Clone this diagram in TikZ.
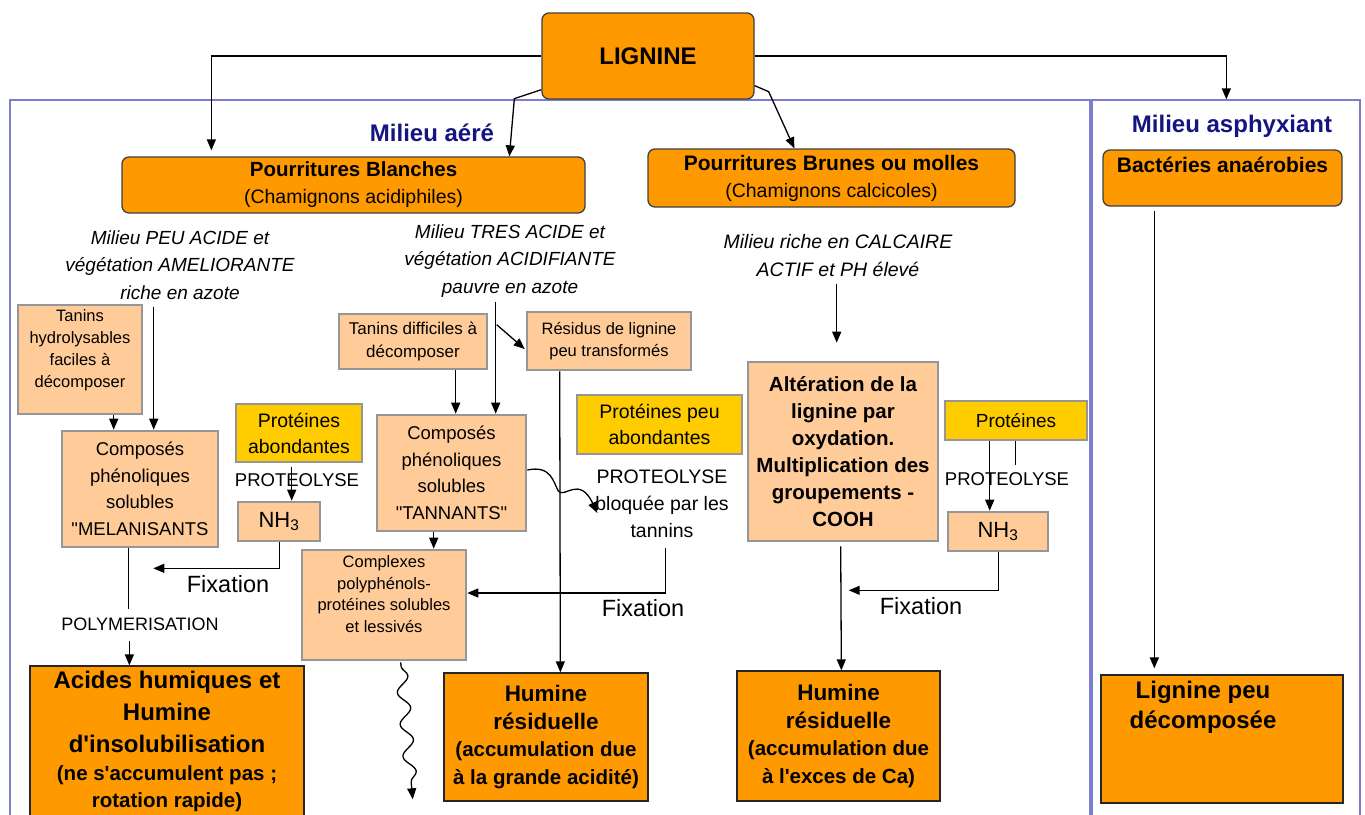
\documentclass[tikz,border=0pt]{standalone}
\usepackage{fontspec}
\setmainfont{Liberation Sans}[Ligatures=TeXOff]
\usetikzlibrary{arrows.meta,calc,decorations.pathmorphing}
\definecolor{org}{RGB}{255,153,0}
\definecolor{peach}{RGB}{255,204,153}
\definecolor{yel}{RGB}{255,204,0}
\definecolor{navy}{RGB}{20,20,130}
\definecolor{frm}{RGB}{125,125,205}
\definecolor{bgray}{RGB}{150,150,150}
\newcommand\fsz[2]{\fontsize{#1}{#2}\selectfont}
\begin{document}
\begin{tikzpicture}[x=1pt,y=-1pt,
 basebox/.style={inner sep=0pt, align=center, text=black},
 roundbox/.style={basebox, fill=org, draw=black!75, line width=1.3pt, rounded corners=7pt},
 peachbox/.style={basebox, fill=peach, draw=bgray, line width=2.6pt},
 yelbox/.style={basebox, fill=yel, draw=bgray, line width=2.6pt},
 finbox/.style={basebox, fill=org, draw=black!85, line width=1.3pt},
 framebox/.style={draw=frm, line width=1.3pt, inner sep=0pt},
 lab/.style={inner sep=0pt, align=center},
 arr/.style={line width=1.3pt, -{Triangle[length=11pt,width=9pt]}},
 ln/.style={line width=1.3pt},
]
\useasboundingbox (0,0) rectangle (1365,814);
\fill[white] (0,0) rectangle (1365,814);
\clip (0,0) rectangle (1365,814);

% frames
\node[framebox, minimum width=1080, minimum height=740] (aere) at (550,470) {};
\node[framebox, minimum width=268, minimum height=740] (asph) at (1226,470) {};

% top
\node[roundbox, minimum width=212, minimum height=86, font=\fsz{24}{28}\bfseries] (lig) at (648,56) {LIGNINE};
\node[lab, text=navy, font=\fsz{24}{28}\bfseries] (taere) at (432,133) {Milieu aéré};
\node[lab, text=navy, font=\fsz{24}{28}\bfseries] (tasph) at (1232,126) {Milieu asphyxiant};

\node[roundbox, minimum width=463, minimum height=56, font=\fsz{19.5}{27}] (pb) at (353.5,185)
  {{\fsz{20.5}{27}\bfseries Pourritures Blanches}\\(Chamignons acidiphiles)};
\node[roundbox, minimum width=367, minimum height=58, font=\fsz{19.5}{27}] (pbr) at (831.5,178)
  {{\fsz{21}{27}\bfseries Pourritures Brunes ou molles}\\(Chamignons calcicoles)};
\node[roundbox, minimum width=239, minimum height=56, font=\fsz{21}{27}\bfseries] (bact) at (1222.5,178)
  {Bactéries anaérobies\\\mbox{}};

% italic conditions
\node[lab, font=\fsz{19}{27.5}\itshape] (tPeu) at (180,265) {Milieu PEU ACIDE et\\végétation AMELIORANTE\\riche en azote};
\node[lab, font=\fsz{19}{27.5}\itshape] (tTres) at (510,261) {Milieu TRES ACIDE et\\végétation ACIDIFIANTE\\pauvre en azote};
\node[lab, font=\fsz{19.5}{27.5}\itshape] (tCal) at (838,255.5) {Milieu riche en CALCAIRE\\ACTIF et PH élevé};

% left column
\node[peachbox, minimum width=124, minimum height=109, font=\fsz{16.5}{22}] (tanh) at (80,359.5)
  {Tanins\\hydrolysables\\faciles à\\décomposer\\\mbox{}};
\node[peachbox, minimum width=156, minimum height=116, font=\fsz{18.5}{26.5}] (mel) at (140,489)
  {Composés\\phénoliques\\solubles\\"MELANISANTS};
\node[yelbox, minimum width=126, minimum height=58, font=\fsz{19.5}{26}] (pab) at (299,433)
  {Protéines\\abondantes};
\node[lab, font=\fsz{18.5}{22}] (tProt1) at (297,480) {PROTEOLYSE};
\node[peachbox, minimum width=82, minimum height=39, font=\fsz{22}{26}] (nh1) at (279,521.5) {NH\textsubscript{3}};
\node[lab, font=\fsz{23.5}{27}] (f1) at (228,584) {Fixation};
\node[lab, font=\fsz{18}{22}] (tPoly) at (140,624) {POLYMERISATION};
\node[finbox, minimum width=274, minimum height=151] (acid) at (167,741.5) {};
\node[lab, font=\fsz{24}{30}\bfseries] (tacid) at (167,741.5)
  {Acides humiques et\\[2pt]Humine\\[2pt]d'insolubilisation\\[-2pt]{\fsz{20.5}{27}\bfseries (ne s'accumulent pas ;}\\[-3pt]{\fsz{20.5}{27}\bfseries rotation rapide)}};

% middle column
\node[peachbox, minimum width=148, minimum height=55, font=\fsz{17}{23}] (tdif) at (413,341.5)
  {Tanins difficiles à\\décomposer};
\node[peachbox, minimum width=164, minimum height=58, font=\fsz{16.5}{21.5}] (res) at (609,341)
  {Résidus de lignine\\peu transformés};
\node[peachbox, minimum width=149, minimum height=116, font=\fsz{18.5}{26.5}] (tan) at (451.5,473)
  {Composés\\phénoliques\\solubles\\"TANNANTS"};
\node[yelbox, minimum width=165, minimum height=59, font=\fsz{19.5}{26.5}] (ppeu) at (659.5,424.5)
  {Protéines peu\\abondantes};
\node[lab, font=\fsz{19.5}{27}] (tBloq) at (662,504) {PROTEOLYSE\\bloquée par les\\tannins};
\node[peachbox, minimum width=164, minimum height=110, font=\fsz{16.5}{21.5}] (comp) at (384,605)
  {Complexes\\polyphénols-\\protéines solubles\\et lessivés\\\mbox{}};
\node[lab, font=\fsz{23.5}{27}] (f2) at (643,608) {Fixation};
\node[finbox, minimum width=204, minimum height=128, font=\fsz{20.5}{28.5}\bfseries] (hum1) at (546,737)
  {{\fsz{22.5}{30}\bfseries Humine}\\{\fsz{22.5}{30}\bfseries résiduelle}\\[-2pt](accumulation due\\à la grande acidité)};

% right column (aere)
\node[peachbox, minimum width=190, minimum height=179, font=\fsz{20.5}{27}\bfseries] (alt) at (843,451.5)
  {Altération de la\\lignine par\\oxydation.\\Multiplication des\\groupements -\\COOH};
\node[yelbox, minimum width=142, minimum height=39, font=\fsz{19}{22}] (pr3) at (1016,420.5) {Protéines};
\node[lab, font=\fsz{18.5}{22}] (tProt3) at (1007,479) {PROTEOLYSE};
\node[peachbox, minimum width=100, minimum height=39, font=\fsz{22}{26}] (nh3) at (998,531.5) {NH\textsubscript{3}};
\node[lab, font=\fsz{23.5}{27}] (f3) at (921,606) {Fixation};
\node[finbox, minimum width=203, minimum height=130, font=\fsz{20.5}{28.5}\bfseries] (hum2) at (838.5,736)
  {{\fsz{22.5}{30}\bfseries Humine}\\{\fsz{22.5}{30}\bfseries résiduelle}\\[-2pt](accumulation due\\à l'exces de Ca)};

% asphyxiant
\node[finbox, minimum width=242, minimum height=128] (lig2) at (1222,739) {};
\node[lab, font=\fsz{24}{30}\bfseries] (tlig2) at (1203,707) {Lignine peu\\décomposée};

% connectors from LIGNINE
\draw[arr] (lig.west) -| ($(pb.north west)+(90,-6)$);
\draw[arr] ($(lig.south west)+(0,-10)$) -- ($(lig.south west)+(-27,-1)$) -- ($(pb.north west)+(388,0)$);
\draw[arr] ($(lig.south east)+(0,-14)$) -- ($(lig.south east)+(14,-8)$) -- ($(pbr.north west)+(147,0)$);
\draw[arr] (lig.east) -| ($(asph.north west)+(135,0)$);

% left column connectors
\draw[arr] ($(mel.north west)+(93,-123)$) -- ($(mel.north west)+(93,0)$);
\draw[arr] ($(tanh.south west)+(97,0)$) -- ($(mel.north west)+(53,0)$);
\draw[arr] ($(nh1.north west)+(55,-34)$) -- ($(nh1.north west)+(55,0)$);
\draw[arr] ($(nh1.south west)+(43,0)$) |- ($(mel.south east)+(-66,20)$);
\draw[ln] ($(mel.south west)+(68,0)$) -- ++(0,61);
\draw[arr] ($(acid.north west)+(100,-24)$) -- ($(acid.north west)+(100,0)$);

% middle connectors
\draw[arr] ($(tdif.south west)+(118,0)$) -- ($(tan.north west)+(80,0)$);
\draw[arr] ($(tan.north west)+(120,-112)$) -- ($(tan.north west)+(120,0)$);
\draw[arr] ($(tan.north west)+(121,-89)$) -- ($(res.west)+(-1,8)$);
\draw[arr] ($(res.south west)+(34,0)$) -- ($(hum1.north west)+(117,0)$);
\draw[arr] ($(tan.south west)+(58,0)$) -- ($(comp.north west)+(133,0)$);
\draw[arr] ($(tan.east)+(0,-3)$) .. controls ($(tan.east)+(24,-8)$) and ($(tan.east)+(26,9)$) .. ($(tan.east)+(31,18)$)
   .. controls ($(tan.east)+(37,26)$) and ($(tan.east)+(52,2)$) .. ($(tan.east)+(70,40)$);
\draw[arr] ($(comp.east)+(198,-57)$) |- ($(comp.east)+(0,-12)$);
\draw[arr, decorate, decoration={snake, amplitude=6, segment length=32, post length=14, pre length=4}]
   ($(comp.south west)+(100,1)$) -- ($(comp.south west)+(112,138)$);

% right connectors
\draw[arr] ($(alt.north west)+(90,-77)$) -- ($(alt.north west)+(90,-18)$);
\draw[arr] ($(pr3.south west)+(46,0)$) -- ($(nh3.north west)+(43,0)$);
\draw[ln] ($(pr3.south west)+(72,0)$) -- ++(0,24);
\draw[arr] ($(nh3.south west)+(52,0)$) |- ($(alt.south west)+(102,48)$);
\draw[arr] ($(alt.south west)+(94,4)$) -- ($(hum2.north west)+(105,0)$);
\draw[arr] ($(bact.south west)+(52,4)$) -- ($(lig2.north west)+(54,-6)$);
\end{tikzpicture}
\end{document}
